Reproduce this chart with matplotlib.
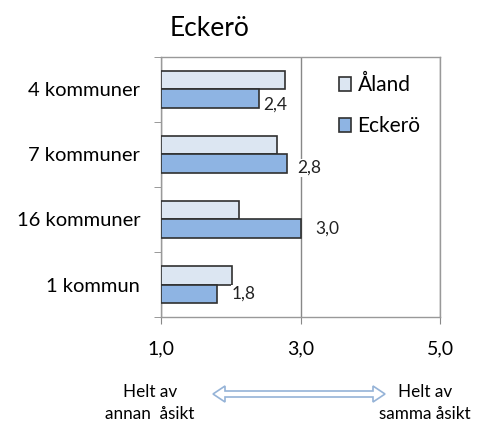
import matplotlib
matplotlib.use("Agg")
import matplotlib.pyplot as plt
from matplotlib.patches import Polygon
import numpy as np

plt.rcParams['font.family'] = ['Lato', 'DejaVu Sans']

# data
categories = ["4 kommuner", "7 kommuner", "16 kommuner", "1 kommun"]
aland = [2.78, 2.67, 2.12, 2.02]
eckero = [2.4, 2.8, 3.0, 1.8]
eckero_labels = ["2,4", "2,8", "3,0", "1,8"]
xticks = [1.0, 3.0, 5.0]
xtick_labels = ["1,0", "3,0", "5,0"]

# label nudges in points (dx, dy)
label_nudge = [(3, -4), (8, -3), (11, 0), (11, 0)]

W, H = 484, 426
fig = plt.figure(figsize=(W / 100, H / 100), dpi=100)
ax = fig.add_axes([161 / W, 1 - 317 / H, 279 / W, 260 / H])

y = np.arange(len(categories))
h = 0.29
edge = "#303030"

ax.barh(y - h / 2, [v - 1 for v in aland], left=1, height=h,
        color="#DCE6F2", edgecolor=edge, linewidth=1.2, label="Åland", zorder=3)
ax.barh(y + h / 2, [v - 1 for v in eckero], left=1, height=h,
        color="#8EB4E3", edgecolor=edge, linewidth=1.2, label="Eckerö", zorder=3)

for i, (v, lab) in enumerate(zip(eckero, eckero_labels)):
    dx, dy = label_nudge[i]
    ax.annotate(lab, (v, y[i] + h / 2), xytext=(dx, dy),
                textcoords="offset points", ha="left", va="center",
                fontsize=12.5, color="#222222", zorder=4,
                bbox=dict(facecolor="white", edgecolor="none", pad=0.5))

ax.set_xlim(1, 5)
ax.set_ylim(len(categories) - 0.5, -0.5)
ax.set_xticks(xticks)
ax.set_xticklabels(xtick_labels, fontsize=14)
ax.set_yticks(y)
ax.set_yticklabels(categories, fontsize=14.5)
ax.tick_params(axis="y", length=0, pad=15)
ax.set_yticks(np.arange(-0.5, len(categories), 1), minor=True)
ax.tick_params(axis="y", which="minor", length=5, color="#888888")
ax.tick_params(axis="x", length=5, color="#888888", pad=12)
ax.grid(axis="x", color="#888888", linewidth=1.0, zorder=0)

for s in ax.spines.values():
    s.set_color("#999999")
    s.set_linewidth(1.0)

ax.legend(loc="upper left", bbox_to_anchor=(0.6, 0.97), frameon=False,
          fontsize=15, handlelength=0.6, handleheight=0.7,
          handletextpad=0.3, labelspacing=1.0, borderpad=0)

fig.text(210 / W, 1 - 28 / H, "Eckerö", fontsize=19, ha="center", va="center")

fig.text(150 / W, 1 - 403 / H, "Helt av\nannan  åsikt", fontsize=12.3,
         ha="center", va="center", linespacing=1.45)
fig.text(425 / W, 1 - 403 / H, "Helt av\nsamma åsikt", fontsize=12.3,
         ha="center", va="center", linespacing=1.45)

# hollow double arrow, in figure pixels
x0, x1, ya = 213, 385, 394
hl, hw, sw = 12, 8, 3
pts = [(x0, ya), (x0 + hl, ya - hw), (x0 + hl, ya - sw), (x1 - hl, ya - sw),
       (x1 - hl, ya - hw), (x1, ya), (x1 - hl, ya + hw), (x1 - hl, ya + sw),
       (x0 + hl, ya + sw), (x0 + hl, ya + hw)]
pts = [(px / W, 1 - py / H) for px, py in pts]
fig.patches.append(Polygon(pts, closed=True, transform=fig.transFigure,
                           facecolor="white", edgecolor="#95B3D7", linewidth=1.2))

fig.savefig("out.png", dpi=100, facecolor="white")
